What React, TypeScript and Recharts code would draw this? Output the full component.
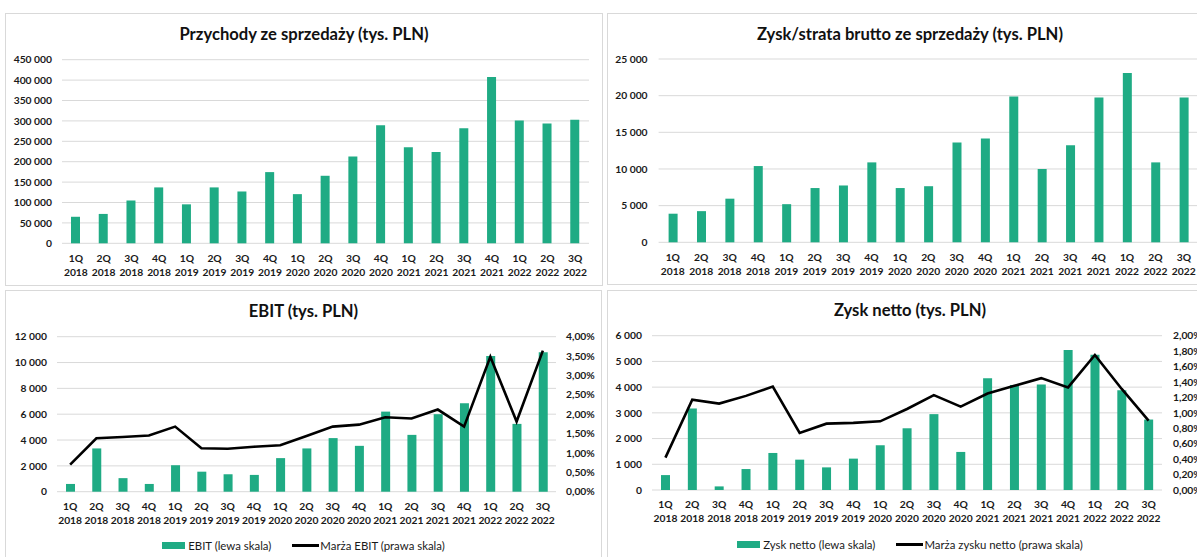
import { Bar, BarChart, CartesianGrid, ComposedChart, Line, XAxis, YAxis } from 'recharts'

const QUARTERS = [
  '1Q 2018', '2Q 2018', '3Q 2018', '4Q 2018',
  '1Q 2019', '2Q 2019', '3Q 2019', '4Q 2019',
  '1Q 2020', '2Q 2020', '3Q 2020', '4Q 2020',
  '1Q 2021', '2Q 2021', '3Q 2021', '4Q 2021',
  '1Q 2022', '2Q 2022', '3Q 2022',
]

// tys. PLN
const REVENUE = [65000, 72000, 105000, 137000, 95500, 137000, 127000, 174500, 120500, 165500, 212500, 289500, 235500, 223500, 282000, 407500, 301000, 293500, 303000]
const GROSS_PROFIT = [3900, 4250, 5950, 10400, 5200, 7400, 7750, 10900, 7400, 7650, 13600, 14150, 19900, 10000, 13250, 19750, 23100, 10900, 19750]
const EBIT = [600, 3350, 1050, 600, 2050, 1550, 1350, 1300, 2600, 3350, 4150, 3550, 6200, 4400, 6000, 6850, 10500, 5250, 10800]
const NET_PROFIT = [580, 3170, 140, 815, 1440, 1180, 880, 1220, 1740, 2400, 2950, 1480, 4350, 4080, 4100, 5440, 5260, 3880, 2740]

// %
const EBIT_MARGIN = [0.7, 1.38, 1.41, 1.45, 1.68, 1.12, 1.11, 1.16, 1.2, 1.44, 1.68, 1.73, 1.92, 1.89, 2.12, 1.68, 3.48, 1.81, 3.64]
const NET_MARGIN = [0.42, 1.17, 1.12, 1.22, 1.34, 0.74, 0.86, 0.87, 0.89, 1.05, 1.23, 1.08, 1.25, 1.35, 1.45, 1.33, 1.75, 1.31, 0.9]

const REVENUE_TICKS = [0, 50000, 100000, 150000, 200000, 250000, 300000, 350000, 400000, 450000]
const GROSS_TICKS = [0, 5000, 10000, 15000, 20000, 25000]
const EBIT_TICKS = [0, 2000, 4000, 6000, 8000, 10000, 12000]
const EBIT_MARGIN_TICKS = [0, 0.5, 1, 1.5, 2, 2.5, 3, 3.5, 4]
const NET_TICKS = [0, 1000, 2000, 3000, 4000, 5000, 6000]
const NET_MARGIN_TICKS = [0, 0.2, 0.4, 0.6, 0.8, 1, 1.2, 1.4, 1.6, 1.8, 2]

const GREEN = '#1fab84'
const GRID = '#d9d9d9'
const INK = '#1a1a1a'
const FONT = 'Lato, "Open Sans", sans-serif'

const rows = QUARTERS.map((q, i) => ({
  q,
  revenue: REVENUE[i],
  gross: GROSS_PROFIT[i],
  ebit: EBIT[i],
  ebitMargin: EBIT_MARGIN[i],
  net: NET_PROFIT[i],
  netMargin: NET_MARGIN[i],
}))

const thousands = (v: number) => (v === 0 ? '0' : String(v).replace(/\B(?=(\d{3})+(?!\d))/g, ' '))
const pct = (v: number) => v.toFixed(2).replace('.', ',') + '%'

const tickStyle = { fontSize: 10.3, fontWeight: 700, fill: INK, fontFamily: FONT }

function QuarterTick({ x, y, payload }: any) {
  const [q, yr] = String(payload.value).split(' ')
  return (
    <text x={x} y={y} textAnchor="middle" {...tickStyle}>
      <tspan x={x} dy={10.4}>{q}</tspan>
      <tspan x={x} dy={14}>{yr}</tspan>
    </text>
  )
}

function Panel({ left, top, width, height, title, titleY, children }: any) {
  return (
    <div style={{ position: 'absolute', left, top, width, height }}>
      <div style={{ position: 'absolute', inset: 0, border: `1px solid ${GRID}`, boxSizing: 'border-box' }} />
      <div
        style={{
          position: 'absolute',
          left: 0,
          width,
          top: titleY - 11,
          height: 22,
          lineHeight: '22px',
          textAlign: 'center',
          fontFamily: FONT,
          fontWeight: 700,
          fontSize: 16.6,
          color: '#111',
        }}
      >
        {title}
      </div>
      {children}
    </div>
  )
}

function LegendRow({ y, bar, line }: { y: number; bar: string; line: string }) {
  return (
    <div
      style={{
        position: 'absolute',
        left: 0,
        right: 0,
        top: y - 9,
        height: 18,
        display: 'flex',
        justifyContent: 'center',
        alignItems: 'center',
        gap: 21,
        fontFamily: FONT,
        fontSize: 11.4,
        color: INK,
      }}
    >
      <span style={{ display: 'flex', alignItems: 'center' }}>
        <span style={{ width: 23, height: 7, background: GREEN, marginRight: 3 }} />
        {bar}
      </span>
      <span style={{ display: 'flex', alignItems: 'center' }}>
        <span style={{ width: 27, height: 3, background: '#000', marginRight: 1 }} />
        {line}
      </span>
    </div>
  )
}

export default function App() {
  return (
    <div style={{ position: 'absolute', left: 0, top: 0, width: 1197, height: 557, overflow: 'hidden', background: '#fff' }}>
      <Panel left={5} top={13} width={598} height={273} title="Przychody ze sprzedaży (tys. PLN)" titleY={20.5}>
        <BarChart width={598} height={273} data={rows} margin={{ top: 46.7, right: 14, left: 0, bottom: 0 }}>
          <CartesianGrid vertical={false} stroke={GRID} />
          <XAxis dataKey="q" interval={0} height={42.7} axisLine={false} tickLine={false} tick={<QuarterTick />} />
          <YAxis width={57} domain={[0, 450000]} ticks={REVENUE_TICKS} interval={0} tickFormatter={thousands} axisLine={false} tickLine={false} tickMargin={4} tick={tickStyle} />
          <Bar dataKey="revenue" fill={GREEN} barSize={9} isAnimationActive={false} />
        </BarChart>
      </Panel>

      <Panel left={607} top={13} width={606} height={272} title="Zysk/strata brutto ze sprzedaży (tys. PLN)" titleY={20.5}>
        <BarChart width={606} height={272} data={rows} margin={{ top: 46, right: 15, left: 0, bottom: 0 }}>
          <CartesianGrid vertical={false} stroke={GRID} />
          <XAxis dataKey="q" interval={0} height={42.7} axisLine={false} tickLine={false} tick={<QuarterTick />} />
          <YAxis width={51.6} domain={[0, 25000]} ticks={GROSS_TICKS} interval={0} tickFormatter={thousands} axisLine={false} tickLine={false} tickMargin={5} tick={tickStyle} />
          <Bar dataKey="gross" fill={GREEN} barSize={9} isAnimationActive={false} />
        </BarChart>
      </Panel>

      <Panel left={5} top={290} width={597} height={275} title="EBIT (tys. PLN)" titleY={21}>
        <ComposedChart width={597} height={267} data={rows} margin={{ top: 46.7, right: 0, left: 0, bottom: 22.6 }}>
          <CartesianGrid vertical={false} stroke={GRID} yAxisId="left" />
          <XAxis dataKey="q" interval={0} height={42.7} axisLine={false} tickLine={false} tick={<QuarterTick />} />
          <YAxis yAxisId="left" width={52} domain={[0, 12000]} ticks={EBIT_TICKS} interval={0} tickFormatter={thousands} axisLine={false} tickLine={false} tickMargin={4} tick={tickStyle} />
          <YAxis yAxisId="right" orientation="right" width={46} domain={[0, 4]} ticks={EBIT_MARGIN_TICKS} interval={0} tickFormatter={pct} axisLine={false} tickLine={false} tickMargin={4} tick={{ ...tickStyle, textAnchor: 'start' }} />
          <Bar yAxisId="left" dataKey="ebit" fill={GREEN} barSize={9} isAnimationActive={false} />
          <Line yAxisId="right" dataKey="ebitMargin" type="linear" stroke="#000" strokeWidth={2.6} dot={false} isAnimationActive={false} />
        </ComposedChart>
        <LegendRow y={255} bar="EBIT (lewa skala)" line="Marża EBIT (prawa skala)" />
      </Panel>

      <Panel left={607} top={290} width={606} height={275} title="Zysk netto (tys. PLN)" titleY={20}>
        <ComposedChart width={606} height={267} data={rows} margin={{ top: 45.7, right: 0, left: 0, bottom: 24.3 }}>
          <CartesianGrid vertical={false} stroke={GRID} yAxisId="left" />
          <XAxis dataKey="q" interval={0} height={42.7} axisLine={false} tickLine={false} tick={<QuarterTick />} />
          <YAxis yAxisId="left" width={45} domain={[0, 6000]} ticks={NET_TICKS} interval={0} tickFormatter={thousands} axisLine={false} tickLine={false} tickMargin={4} tick={tickStyle} />
          <YAxis yAxisId="right" orientation="right" width={51} domain={[0, 2]} ticks={NET_MARGIN_TICKS} interval={0} tickFormatter={pct} axisLine={false} tickLine={false} tickMargin={5} tick={{ ...tickStyle, textAnchor: 'start' }} />
          <Bar yAxisId="left" dataKey="net" fill={GREEN} barSize={9} isAnimationActive={false} />
          <Line yAxisId="right" dataKey="netMargin" type="linear" stroke="#000" strokeWidth={2.6} dot={false} isAnimationActive={false} />
        </ComposedChart>
        <LegendRow y={254} bar="Zysk netto (lewa skala)" line="Marża zysku netto (prawa skala)" />
      </Panel>
    </div>
  )
}
